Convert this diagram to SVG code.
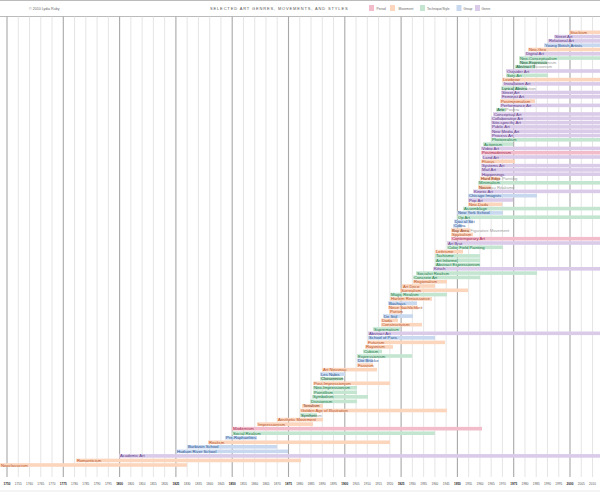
<svg xmlns="http://www.w3.org/2000/svg" width="600" height="494" viewBox="0 0 600 494">
<style>
text{font-family:"Liberation Sans",Arial,sans-serif}
.lab{font-size:4.2px}
.ax{font-size:3.1px;fill:#555;text-anchor:middle}
.axb{font-size:3.1px;fill:#222;text-anchor:middle;font-weight:bold}
.g1{stroke:#dadada;stroke-width:.7}
.g2{stroke:#a8a8a8;stroke-width:1.1}
.bp{fill:#f3bccb}.bm{fill:#fcd5bd}.bt{fill:#c4e6d1}.br{fill:#c8d8ef}.bg{fill:#dacbe9}
.tp{fill:#a52c50}.tm{fill:#b5542a}.tt{fill:#267a4c}.tr{fill:#2a5592}.tg{fill:#5e3b88}.tx{fill:#9a9a9a}
</style>
<defs>
<clipPath id="k7"><rect x="519" y="-1.8" width="28" height="3.6"/></clipPath>
<clipPath id="k8"><rect x="515" y="-1.8" width="20" height="3.6"/></clipPath>
<clipPath id="k13"><rect x="501" y="-1.8" width="26" height="3.6"/></clipPath>
<clipPath id="k18"><rect x="496" y="-1.8" width="10" height="3.6"/></clipPath>
<clipPath id="k34"><rect x="480" y="-1.8" width="20" height="3.6"/></clipPath>
<clipPath id="k36"><rect x="478" y="-1.8" width="13" height="3.6"/></clipPath>
<clipPath id="k46"><rect x="451" y="-1.8" width="19" height="3.6"/></clipPath>
<clipPath id="k80"><rect x="320" y="-1.8" width="23" height="3.6"/></clipPath>
<clipPath id="k86"><rect x="302" y="-1.8" width="21" height="3.6"/></clipPath>
<clipPath id="k88"><rect x="300" y="-1.8" width="17" height="3.6"/></clipPath>
</defs>
<rect width="600" height="494" fill="#fff"/>
<g id="header">
<line x1="0" y1="0.5" x2="600" y2="0.5" stroke="#bbb" stroke-width="1"/>
<text x="29" y="9.5" font-size="3.6" fill="#666">© 2010 Lydia Ruby</text>
<text x="210" y="10" font-size="4" fill="#555" letter-spacing="0.85">SELECTED ART GENRES, MOVEMENTS, AND STYLES</text>
<rect class="bp" x="369" y="5" width="5" height="6"/><text x="376.5" y="9.6" font-size="3.2" fill="#666">Period</text>
<rect class="bm" x="390" y="5" width="5" height="6"/><text x="398.5" y="9.6" font-size="3.2" fill="#666">Movement</text>
<rect class="bt" x="420" y="5" width="5" height="6"/><text x="427" y="9.6" font-size="3.2" fill="#666">Technique/Style</text>
<rect class="br" x="456.5" y="5" width="5" height="6"/><text x="463.5" y="9.6" font-size="3.2" fill="#666">Group</text>
<rect class="bg" x="475" y="5" width="5" height="6"/><text x="481.5" y="9.6" font-size="3.2" fill="#666">Genre</text>
<line x1="0" y1="16.5" x2="600" y2="16.5" stroke="#bbb" stroke-width="1"/>
</g>
<g id="grid">
<line class="g2" x1="7" y1="16.5" x2="7" y2="477"/><line class="g1" x1="18.26" y1="16.5" x2="18.26" y2="477"/><line class="g1" x1="29.52" y1="16.5" x2="29.52" y2="477"/><line class="g1" x1="40.78" y1="16.5" x2="40.78" y2="477"/><line class="g1" x1="52.04" y1="16.5" x2="52.04" y2="477"/>
<line class="g2" x1="63.3" y1="16.5" x2="63.3" y2="477"/><line class="g1" x1="74.56" y1="16.5" x2="74.56" y2="477"/><line class="g1" x1="85.82" y1="16.5" x2="85.82" y2="477"/><line class="g1" x1="97.08" y1="16.5" x2="97.08" y2="477"/><line class="g1" x1="108.34" y1="16.5" x2="108.34" y2="477"/>
<line class="g2" x1="119.6" y1="16.5" x2="119.6" y2="477"/><line class="g1" x1="130.86" y1="16.5" x2="130.86" y2="477"/><line class="g1" x1="142.12" y1="16.5" x2="142.12" y2="477"/><line class="g1" x1="153.38" y1="16.5" x2="153.38" y2="477"/><line class="g1" x1="164.64" y1="16.5" x2="164.64" y2="477"/>
<line class="g2" x1="175.9" y1="16.5" x2="175.9" y2="477"/><line class="g1" x1="187.16" y1="16.5" x2="187.16" y2="477"/><line class="g1" x1="198.42" y1="16.5" x2="198.42" y2="477"/><line class="g1" x1="209.68" y1="16.5" x2="209.68" y2="477"/><line class="g1" x1="220.94" y1="16.5" x2="220.94" y2="477"/>
<line class="g2" x1="232.2" y1="16.5" x2="232.2" y2="477"/><line class="g1" x1="243.46" y1="16.5" x2="243.46" y2="477"/><line class="g1" x1="254.72" y1="16.5" x2="254.72" y2="477"/><line class="g1" x1="265.98" y1="16.5" x2="265.98" y2="477"/><line class="g1" x1="277.24" y1="16.5" x2="277.24" y2="477"/>
<line class="g2" x1="288.5" y1="16.5" x2="288.5" y2="477"/><line class="g1" x1="299.76" y1="16.5" x2="299.76" y2="477"/><line class="g1" x1="311.02" y1="16.5" x2="311.02" y2="477"/><line class="g1" x1="322.28" y1="16.5" x2="322.28" y2="477"/><line class="g1" x1="333.54" y1="16.5" x2="333.54" y2="477"/>
<line class="g2" x1="344.8" y1="16.5" x2="344.8" y2="477"/><line class="g1" x1="356.06" y1="16.5" x2="356.06" y2="477"/><line class="g1" x1="367.32" y1="16.5" x2="367.32" y2="477"/><line class="g1" x1="378.58" y1="16.5" x2="378.58" y2="477"/><line class="g1" x1="389.84" y1="16.5" x2="389.84" y2="477"/>
<line class="g2" x1="401.1" y1="16.5" x2="401.1" y2="477"/><line class="g1" x1="412.36" y1="16.5" x2="412.36" y2="477"/><line class="g1" x1="423.62" y1="16.5" x2="423.62" y2="477"/><line class="g1" x1="434.88" y1="16.5" x2="434.88" y2="477"/><line class="g1" x1="446.14" y1="16.5" x2="446.14" y2="477"/>
<line class="g2" x1="457.4" y1="16.5" x2="457.4" y2="477"/><line class="g1" x1="468.66" y1="16.5" x2="468.66" y2="477"/><line class="g1" x1="479.92" y1="16.5" x2="479.92" y2="477"/><line class="g1" x1="491.18" y1="16.5" x2="491.18" y2="477"/><line class="g1" x1="502.44" y1="16.5" x2="502.44" y2="477"/>
<line class="g2" x1="513.7" y1="16.5" x2="513.7" y2="477"/><line class="g1" x1="524.96" y1="16.5" x2="524.96" y2="477"/><line class="g1" x1="536.22" y1="16.5" x2="536.22" y2="477"/><line class="g1" x1="547.48" y1="16.5" x2="547.48" y2="477"/><line class="g1" x1="558.74" y1="16.5" x2="558.74" y2="477"/>
<line class="g2" x1="570" y1="16.5" x2="570" y2="477"/><line class="g1" x1="581.26" y1="16.5" x2="581.26" y2="477"/><line class="g1" x1="592.52" y1="16.5" x2="592.52" y2="477"/>
<line x1="0" y1="491" x2="600" y2="491" stroke="#e2e2e2" stroke-width="0.8"/>
</g>
<g id="axis">
<text class="axb" x="7" y="485">1750</text><text class="ax" x="18.26" y="485">1755</text><text class="ax" x="29.52" y="485">1760</text><text class="ax" x="40.78" y="485">1765</text><text class="ax" x="52.04" y="485">1770</text>
<text class="axb" x="63.3" y="485">1775</text><text class="ax" x="74.56" y="485">1780</text><text class="ax" x="85.82" y="485">1785</text><text class="ax" x="97.08" y="485">1790</text><text class="ax" x="108.34" y="485">1795</text>
<text class="axb" x="119.6" y="485">1800</text><text class="ax" x="130.86" y="485">1805</text><text class="ax" x="142.12" y="485">1810</text><text class="ax" x="153.38" y="485">1815</text><text class="ax" x="164.64" y="485">1820</text>
<text class="axb" x="175.9" y="485">1825</text><text class="ax" x="187.16" y="485">1830</text><text class="ax" x="198.42" y="485">1835</text><text class="ax" x="209.68" y="485">1840</text><text class="ax" x="220.94" y="485">1845</text>
<text class="axb" x="232.2" y="485">1850</text><text class="ax" x="243.46" y="485">1855</text><text class="ax" x="254.72" y="485">1860</text><text class="ax" x="265.98" y="485">1865</text><text class="ax" x="277.24" y="485">1870</text>
<text class="axb" x="288.5" y="485">1875</text><text class="ax" x="299.76" y="485">1880</text><text class="ax" x="311.02" y="485">1885</text><text class="ax" x="322.28" y="485">1890</text><text class="ax" x="333.54" y="485">1895</text>
<text class="axb" x="344.8" y="485">1900</text><text class="ax" x="356.06" y="485">1905</text><text class="ax" x="367.32" y="485">1910</text><text class="ax" x="378.58" y="485">1915</text><text class="ax" x="389.84" y="485">1920</text>
<text class="axb" x="401.1" y="485">1925</text><text class="ax" x="412.36" y="485">1930</text><text class="ax" x="423.62" y="485">1935</text><text class="ax" x="434.88" y="485">1940</text><text class="ax" x="446.14" y="485">1945</text>
<text class="axb" x="457.4" y="485">1950</text><text class="ax" x="468.66" y="485">1955</text><text class="ax" x="479.92" y="485">1960</text><text class="ax" x="491.18" y="485">1965</text><text class="ax" x="502.44" y="485">1970</text>
<text class="axb" x="513.7" y="485">1975</text><text class="ax" x="524.96" y="485">1980</text><text class="ax" x="536.22" y="485">1985</text><text class="ax" x="547.48" y="485">1990</text><text class="ax" x="558.74" y="485">1995</text>
<text class="axb" x="570" y="485">2000</text><text class="ax" x="581.26" y="485">2005</text><text class="ax" x="592.52" y="485">2010</text>
</g>
<g id="rows" class="lab">
<g id="stuckism" transform="translate(0,32.3)"><rect class="bm" x="569" y="-1.8" width="31" height="3.6"/><text class="tm" x="570" y="1.5">Stuckism</text></g>
<g id="street-art-2" transform="translate(0,36.6)"><rect class="bg" x="554" y="-1.8" width="46" height="3.6"/><text class="tg" x="555" y="1.5">Street Art</text></g>
<g id="relational-art" transform="translate(0,40.9)"><rect class="bg" x="548" y="-1.8" width="52" height="3.6"/><text class="tg" x="549" y="1.5">Relational Art</text></g>
<g id="young-british-artists" transform="translate(0,45.2)"><rect class="br" x="544" y="-1.8" width="56" height="3.6"/><text class="tr" x="545" y="1.5">Young British Artists</text></g>
<g id="neo-geo" transform="translate(0,49.5)"><rect class="bm" x="528" y="-1.8" width="72" height="3.6"/><text class="tm" x="529" y="1.5">Neo-Geo</text></g>
<g id="digital-art" transform="translate(0,53.8)"><rect class="bg" x="525" y="-1.8" width="75" height="3.6"/><text class="tg" x="526" y="1.5">Digital Art</text></g>
<g id="neo-conceptualism" transform="translate(0,58.1)"><rect class="bt" x="519" y="-1.8" width="81" height="3.6"/><text class="tt" x="520" y="1.5">Neo-Conceptualism</text></g>
<g id="neo-expressionism" transform="translate(0,62.4)"><rect class="bt" x="519" y="-1.8" width="28" height="3.6"/><text class="tx" x="520" y="1.5">Neo-Expressionism</text><text class="tt" x="520" y="1.5" clip-path="url(#k7)">Neo-Expressionism</text></g>
<g id="abstract-illusionism" transform="translate(0,66.7)"><rect class="bt" x="515" y="-1.8" width="20" height="3.6"/><text class="tx" x="516" y="1.5">Abstract Illusionism</text><text class="tt" x="516" y="1.5" clip-path="url(#k8)">Abstract Illusionism</text></g>
<g id="outsider-art" transform="translate(0,71)"><rect class="bg" x="506" y="-1.8" width="94" height="3.6"/><text class="tg" x="507" y="1.5">Outsider Art</text></g>
<g id="sots-art" transform="translate(0,75.3)"><rect class="bt" x="506" y="-1.8" width="42" height="3.6"/><text class="tt" x="507" y="1.5">Sots Art</text></g>
<g id="lowbrow" transform="translate(0,79.6)"><rect class="bm" x="502" y="-1.8" width="98" height="3.6"/><text class="tm" x="503" y="1.5">Lowbrow</text></g>
<g id="installation-art" transform="translate(0,83.9)"><rect class="bg" x="503" y="-1.8" width="97" height="3.6"/><text class="tg" x="504" y="1.5">Installation Art</text></g>
<g id="lyrical-abstraction" transform="translate(0,88.2)"><rect class="bt" x="501" y="-1.8" width="26" height="3.6"/><text class="tx" x="502" y="1.5">Lyrical Abstraction</text><text class="tt" x="502" y="1.5" clip-path="url(#k13)">Lyrical Abstraction</text></g>
<g id="street-art" transform="translate(0,92.5)"><rect class="bg" x="501" y="-1.8" width="99" height="3.6"/><text class="tg" x="502" y="1.5">Street Art</text></g>
<g id="feminist-art" transform="translate(0,96.8)"><rect class="bg" x="501" y="-1.8" width="99" height="3.6"/><text class="tg" x="502" y="1.5">Feminist Art</text></g>
<g id="postminimalism" transform="translate(0,101.1)"><rect class="bm" x="500" y="-1.8" width="35" height="3.6"/><text class="tm" x="501" y="1.5">Postminimalism</text></g>
<g id="performance-art" transform="translate(0,105.4)"><rect class="bg" x="500" y="-1.8" width="100" height="3.6"/><text class="tg" x="501" y="1.5">Performance Art</text></g>
<g id="arte-povera" transform="translate(0,109.7)"><rect class="bt" x="496" y="-1.8" width="10" height="3.6"/><text class="tx" x="497" y="1.5">Arte Povera</text><text class="tt" x="497" y="1.5" clip-path="url(#k18)">Arte Povera</text></g>
<g id="conceptual-art" transform="translate(0,114)"><rect class="bg" x="493" y="-1.8" width="107" height="3.6"/><text class="tg" x="494" y="1.5">Conceptual Art</text></g>
<g id="collaborative-art" transform="translate(0,118.3)"><rect class="bg" x="491" y="-1.8" width="109" height="3.6"/><text class="tg" x="492" y="1.5">Collaborative Art</text></g>
<g id="site-specific-art" transform="translate(0,122.6)"><rect class="bg" x="491" y="-1.8" width="109" height="3.6"/><text class="tg" x="492" y="1.5">Site-specific Art</text></g>
<g id="public-art" transform="translate(0,126.9)"><rect class="bg" x="491" y="-1.8" width="109" height="3.6"/><text class="tg" x="492" y="1.5">Public Art</text></g>
<g id="new-media-art" transform="translate(0,131.2)"><rect class="bg" x="491" y="-1.8" width="109" height="3.6"/><text class="tg" x="492" y="1.5">New Media Art</text></g>
<g id="process-art" transform="translate(0,135.5)"><rect class="bg" x="491" y="-1.8" width="109" height="3.6"/><text class="tg" x="492" y="1.5">Process Art</text></g>
<g id="photorealism" transform="translate(0,139.8)"><rect class="bt" x="491" y="-1.8" width="109" height="3.6"/><text class="tt" x="492" y="1.5">Photorealism</text></g>
<g id="actionism" transform="translate(0,144.1)"><rect class="bt" x="483" y="-1.8" width="30" height="3.6"/><text class="tt" x="484" y="1.5">Actionism</text></g>
<g id="video-art" transform="translate(0,148.4)"><rect class="bg" x="481" y="-1.8" width="119" height="3.6"/><text class="tg" x="482" y="1.5">Video Art</text></g>
<g id="postmodernism" transform="translate(0,152.7)"><rect class="bp" x="481" y="-1.8" width="119" height="3.6"/><text class="tp" x="482" y="1.5">Postmodernism</text></g>
<g id="land-art" transform="translate(0,157)"><rect class="bg" x="482" y="-1.8" width="118" height="3.6"/><text class="tg" x="483" y="1.5">Land Art</text></g>
<g id="fluxus" transform="translate(0,161.3)"><rect class="bm" x="481" y="-1.8" width="34" height="3.6"/><text class="tm" x="482" y="1.5">Fluxus</text></g>
<g id="systems-art" transform="translate(0,165.6)"><rect class="bg" x="481" y="-1.8" width="119" height="3.6"/><text class="tg" x="482" y="1.5">Systems Art</text></g>
<g id="mail-art" transform="translate(0,169.9)"><rect class="bg" x="481" y="-1.8" width="119" height="3.6"/><text class="tg" x="482" y="1.5">Mail Art</text></g>
<g id="happenings" transform="translate(0,174.2)"><rect class="bg" x="481" y="-1.8" width="119" height="3.6"/><text class="tg" x="482" y="1.5">Happenings</text></g>
<g id="hard-edge-painting" transform="translate(0,178.5)"><rect class="bm" x="480" y="-1.8" width="20" height="3.6"/><text class="tx" x="481" y="1.5">Hard Edge Painting</text><text class="tm" x="481" y="1.5" clip-path="url(#k34)">Hard Edge Painting</text></g>
<g id="minimalism" transform="translate(0,182.8)"><rect class="bt" x="478" y="-1.8" width="122" height="3.6"/><text class="tt" x="479" y="1.5">Minimalism</text></g>
<g id="nouveau-realisme" transform="translate(0,187.1)"><rect class="bm" x="478" y="-1.8" width="13" height="3.6"/><text class="tx" x="479" y="1.5">Nouveau Réalisme</text><text class="tm" x="479" y="1.5" clip-path="url(#k36)">Nouveau Réalisme</text></g>
<g id="kinetic-art" transform="translate(0,191.4)"><rect class="bg" x="473" y="-1.8" width="127" height="3.6"/><text class="tg" x="474" y="1.5">Kinetic Art</text></g>
<g id="chicago-imagists" transform="translate(0,195.7)"><rect class="br" x="468" y="-1.8" width="69" height="3.6"/><text class="tr" x="469" y="1.5">Chicago Imagists</text></g>
<g id="pop-art" transform="translate(0,200)"><rect class="bg" x="468" y="-1.8" width="45" height="3.6"/><text class="tg" x="469" y="1.5">Pop Art</text></g>
<g id="neo-dada" transform="translate(0,204.3)"><rect class="bm" x="468" y="-1.8" width="34" height="3.6"/><text class="tm" x="469" y="1.5">Neo-Dada</text></g>
<g id="assemblage" transform="translate(0,208.6)"><rect class="bt" x="463" y="-1.8" width="137" height="3.6"/><text class="tt" x="464" y="1.5">Assemblage</text></g>
<g id="new-york-school" transform="translate(0,212.9)"><rect class="br" x="457" y="-1.8" width="46" height="3.6"/><text class="tr" x="458" y="1.5">New York School</text></g>
<g id="op-art" transform="translate(0,217.2)"><rect class="bt" x="457" y="-1.8" width="143" height="3.6"/><text class="tt" x="458" y="1.5">Op Art</text></g>
<g id="dau-al-set" transform="translate(0,221.5)"><rect class="br" x="454" y="-1.8" width="19" height="3.6"/><text class="tr" x="455" y="1.5">Dau al Set</text></g>
<g id="cobra" transform="translate(0,225.8)"><rect class="br" x="453" y="-1.8" width="9" height="3.6"/><text class="tr" x="454" y="1.5">Cobra</text></g>
<g id="bay-area" transform="translate(0,230.1)"><rect class="bm" x="451" y="-1.8" width="19" height="3.6"/><text class="tx" x="452" y="1.5">Bay Area Figurative Movement</text><text class="tm" x="452" y="1.5" clip-path="url(#k46)">Bay Area Figurative Movement</text></g>
<g id="spatialism" transform="translate(0,234.4)"><rect class="bm" x="451" y="-1.8" width="22" height="3.6"/><text class="tm" x="452" y="1.5">Spatialism</text></g>
<g id="contemporary-art" transform="translate(0,238.7)"><rect class="bp" x="451" y="-1.8" width="149" height="3.6"/><text class="tp" x="452" y="1.5">Contemporary Art</text></g>
<g id="art-brut" transform="translate(0,243)"><rect class="bg" x="447" y="-1.8" width="153" height="3.6"/><text class="tg" x="448" y="1.5">Art Brut</text></g>
<g id="color-field" transform="translate(0,247.3)"><rect class="bt" x="447" y="-1.8" width="56" height="3.6"/><text class="tt" x="448" y="1.5">Color Field Painting</text></g>
<g id="lettrisme" transform="translate(0,251.6)"><rect class="bm" x="435" y="-1.8" width="28" height="3.6"/><text class="tm" x="436" y="1.5">Lettrisme</text></g>
<g id="tachisme" transform="translate(0,255.9)"><rect class="bt" x="435" y="-1.8" width="45" height="3.6"/><text class="tt" x="436" y="1.5">Tachisme</text></g>
<g id="art-informel" transform="translate(0,260.2)"><rect class="bt" x="435" y="-1.8" width="45" height="3.6"/><text class="tt" x="436" y="1.5">Art Informel</text></g>
<g id="abstract-expressionism" transform="translate(0,264.5)"><rect class="bt" x="435" y="-1.8" width="45" height="3.6"/><text class="tt" x="436" y="1.5">Abstract Expressionism</text></g>
<g id="kitsch" transform="translate(0,268.8)"><rect class="bg" x="433" y="-1.8" width="167" height="3.6"/><text class="tg" x="434" y="1.5">Kitsch</text></g>
<g id="socialist-realism" transform="translate(0,273.1)"><rect class="bt" x="416" y="-1.8" width="121" height="3.6"/><text class="tt" x="417" y="1.5">Socialist Realism</text></g>
<g id="concrete-art" transform="translate(0,277.4)"><rect class="bt" x="413" y="-1.8" width="67" height="3.6"/><text class="tt" x="414" y="1.5">Concrete Art</text></g>
<g id="regionalism" transform="translate(0,281.7)"><rect class="bm" x="413" y="-1.8" width="34" height="3.6"/><text class="tm" x="414" y="1.5">Regionalism</text></g>
<g id="art-deco" transform="translate(0,286)"><rect class="bm" x="402" y="-1.8" width="33" height="3.6"/><text class="tm" x="403" y="1.5">Art Deco</text></g>
<g id="surrealism" transform="translate(0,290.3)"><rect class="bm" x="400" y="-1.8" width="68" height="3.6"/><text class="tm" x="401" y="1.5">Surrealism</text></g>
<g id="magic-realism" transform="translate(0,294.6)"><rect class="bt" x="390" y="-1.8" width="57" height="3.6"/><text class="tt" x="391" y="1.5">Magic Realism</text></g>
<g id="harlem-renaissance" transform="translate(0,298.9)"><rect class="bm" x="390" y="-1.8" width="42" height="3.6"/><text class="tm" x="391" y="1.5">Harlem Renaissance</text></g>
<g id="bauhaus" transform="translate(0,303.2)"><rect class="br" x="388" y="-1.8" width="29" height="3.6"/><text class="tr" x="389" y="1.5">Bauhaus</text></g>
<g id="neue-sachlichkeit" transform="translate(0,307.5)"><rect class="bm" x="388" y="-1.8" width="30" height="3.6"/><text class="tm" x="389" y="1.5">Neue Sachlichkeit</text></g>
<g id="purism" transform="translate(0,311.8)"><rect class="bm" x="389" y="-1.8" width="12" height="3.6"/><text class="tm" x="390" y="1.5">Purism</text></g>
<g id="de-stijl" transform="translate(0,316.1)"><rect class="br" x="383" y="-1.8" width="30" height="3.6"/><text class="tr" x="384" y="1.5">De Stijl</text></g>
<g id="dada" transform="translate(0,320.4)"><rect class="bm" x="381" y="-1.8" width="17" height="3.6"/><text class="tm" x="382" y="1.5">Dada</text></g>
<g id="constructivism" transform="translate(0,324.7)"><rect class="bm" x="381" y="-1.8" width="41" height="3.6"/><text class="tm" x="382" y="1.5">Constructivism</text></g>
<g id="suprematism" transform="translate(0,329)"><rect class="bt" x="373" y="-1.8" width="27" height="3.6"/><text class="tt" x="374" y="1.5">Suprematism</text></g>
<g id="abstract-art" transform="translate(0,333.3)"><rect class="bg" x="368" y="-1.8" width="232" height="3.6"/><text class="tg" x="369" y="1.5">Abstract Art</text></g>
<g id="school-of-paris" transform="translate(0,337.84)"><rect class="br" x="368" y="-1.8" width="67" height="3.6"/><text class="tr" x="369" y="1.5">School of Paris</text></g>
<g id="futurism" transform="translate(0,342.38)"><rect class="bm" x="367" y="-1.8" width="78" height="3.6"/><text class="tm" x="368" y="1.5">Futurism</text></g>
<g id="rayonism" transform="translate(0,346.92)"><rect class="bm" x="365" y="-1.8" width="28" height="3.6"/><text class="tm" x="366" y="1.5">Rayonism</text></g>
<g id="cubism" transform="translate(0,351.46)"><rect class="bt" x="363" y="-1.8" width="19" height="3.6"/><text class="tt" x="364" y="1.5">Cubism</text></g>
<g id="expressionism" transform="translate(0,356)"><rect class="bt" x="357" y="-1.8" width="55" height="3.6"/><text class="tt" x="358" y="1.5">Expressionism</text></g>
<g id="die-brucke" transform="translate(0,360.55)"><rect class="br" x="357" y="-1.8" width="16" height="3.6"/><text class="tr" x="358" y="1.5">Die Brücke</text></g>
<g id="fauvism" transform="translate(0,365.09)"><rect class="bm" x="357" y="-1.8" width="16" height="3.6"/><text class="tm" x="358" y="1.5">Fauvism</text></g>
<g id="art-nouveau" transform="translate(0,369.63)"><rect class="bm" x="322" y="-1.8" width="55" height="3.6"/><text class="tm" x="323" y="1.5">Art Nouveau</text></g>
<g id="les-nabis" transform="translate(0,374.17)"><rect class="br" x="320" y="-1.8" width="25" height="3.6"/><text class="tr" x="321" y="1.5">Les Nabis</text></g>
<g id="cloisonnism" transform="translate(0,378.71)"><rect class="bt" x="320" y="-1.8" width="23" height="3.6"/><text class="tx" x="321" y="1.5">Cloisonnism</text><text class="tt" x="321" y="1.5" clip-path="url(#k80)">Cloisonnism</text></g>
<g id="post-impressionism" transform="translate(0,383.25)"><rect class="bm" x="313" y="-1.8" width="77" height="3.6"/><text class="tm" x="314" y="1.5">Post-Impressionism</text></g>
<g id="neo-impressionism" transform="translate(0,387.79)"><rect class="bt" x="313" y="-1.8" width="44" height="3.6"/><text class="tt" x="314" y="1.5">Neo-Impressionism</text></g>
<g id="pointillism" transform="translate(0,392.33)"><rect class="bt" x="313" y="-1.8" width="44" height="3.6"/><text class="tt" x="314" y="1.5">Pointillism</text></g>
<g id="symbolism" transform="translate(0,396.87)"><rect class="bt" x="312" y="-1.8" width="56" height="3.6"/><text class="tt" x="313" y="1.5">Symbolism</text></g>
<g id="divisionism" transform="translate(0,401.41)"><rect class="bt" x="310" y="-1.8" width="47" height="3.6"/><text class="tt" x="311" y="1.5">Divisionism</text></g>
<g id="tonalism" transform="translate(0,405.95)"><rect class="bm" x="302" y="-1.8" width="21" height="3.6"/><text class="tx" x="303" y="1.5">Tonalism</text><text class="tm" x="303" y="1.5" clip-path="url(#k86)">Tonalism</text></g>
<g id="golden-age-illustration" transform="translate(0,410.5)"><rect class="bm" x="300" y="-1.8" width="147" height="3.6"/><text class="tm" x="301" y="1.5">Golden Age of Illustration</text></g>
<g id="synthetism" transform="translate(0,415.04)"><rect class="bt" x="300" y="-1.8" width="17" height="3.6"/><text class="tx" x="301" y="1.5">Synthetism</text><text class="tt" x="301" y="1.5" clip-path="url(#k88)">Synthetism</text></g>
<g id="aesthetic-movement" transform="translate(0,419.58)"><rect class="bm" x="277" y="-1.8" width="46" height="3.6"/><text class="tm" x="278" y="1.5">Aesthetic Movement</text></g>
<g id="impressionism" transform="translate(0,424.12)"><rect class="bm" x="257" y="-1.8" width="56" height="3.6"/><text class="tm" x="258" y="1.5">Impressionism</text></g>
<g id="modernism" transform="translate(0,428.66)"><rect class="bp" x="232" y="-1.8" width="250" height="3.6"/><text class="tp" x="233" y="1.5">Modernism</text></g>
<g id="social-realism" transform="translate(0,433.2)"><rect class="bt" x="232" y="-1.8" width="203" height="3.6"/><text class="tt" x="233" y="1.5">Social Realism</text></g>
<g id="pre-raphaelites" transform="translate(0,437.74)"><rect class="br" x="225" y="-1.8" width="32" height="3.6"/><text class="tr" x="226" y="1.5">Pre-Raphaelites</text></g>
<g id="realism" transform="translate(0,442.28)"><rect class="bm" x="208" y="-1.8" width="182" height="3.6"/><text class="tm" x="209" y="1.5">Realism</text></g>
<g id="barbizon-school" transform="translate(0,446.82)"><rect class="br" x="187" y="-1.8" width="90" height="3.6"/><text class="tr" x="188" y="1.5">Barbizon School</text></g>
<g id="hudson-river-school" transform="translate(0,451.36)"><rect class="br" x="176" y="-1.8" width="112" height="3.6"/><text class="tr" x="177" y="1.5">Hudson River School</text></g>
<g id="academic-art" transform="translate(0,455.9)"><rect class="bg" x="119" y="-1.8" width="481" height="3.6"/><text class="tg" x="120" y="1.5">Academic Art</text></g>
<g id="romanticism" transform="translate(0,460.44)"><rect class="bm" x="76" y="-1.8" width="225" height="3.6"/><text class="tm" x="77" y="1.5">Romanticism</text></g>
<g id="neoclassicism" transform="translate(0,465)"><rect class="bm" x="0" y="-1.8" width="187" height="3.6"/><text class="tm" x="1" y="1.5">Neoclassicism</text></g>
</g>
<g id="connectors"/>
</svg>
